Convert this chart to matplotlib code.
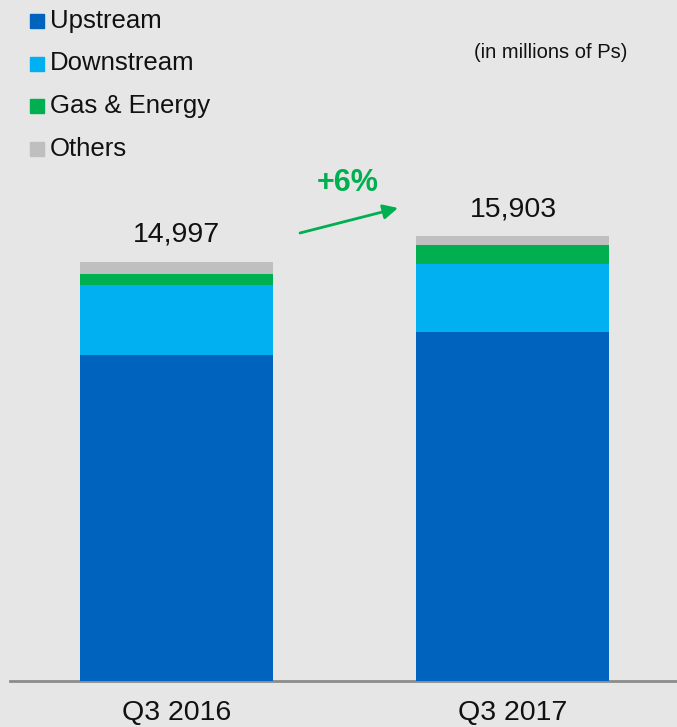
import matplotlib
matplotlib.use("Agg")
import matplotlib.pyplot as plt
from matplotlib.patches import Rectangle

plt.rcParams['font.family'] = ['Liberation Sans', 'DejaVu Sans']

periods = ["Q3 2016", "Q3 2017"]
segments = ["Upstream", "Downstream", "Gas & Energy", "Others"]
upstream = [11660, 12470]
downstream = [2500, 2430]
gas_energy = [400, 680]
others = [437, 323]
totals = [14997, 15903]
totals_labels = ["14,997", "15,903"]
growth_label = "+6%"
unit_note = "(in millions of Ps)"

colors = ["#0063BE", "#00B0F0", "#00B050", "#BFBFBF"]
bg = "#E6E6E6"

W, H = 677, 727
fig = plt.figure(figsize=(W / 100, H / 100), dpi=100, facecolor=bg)

px_per_unit = 0.02796
base_y = 681
ax = fig.add_axes([10 / W, (H - base_y) / H, (W - 10) / W, base_y / H])
ax.set_facecolor(bg)
ax.set_ylim(0, base_y / px_per_unit)
span = 336.5
ax.set_xlim((10 - 176.5) / span, (677 - 176.5) / span)
bar_w = 193 / span

x = list(range(len(periods)))
bottom = [0, 0]
for vals, c in zip([upstream, downstream, gas_energy, others], colors):
    ax.bar(x, vals, width=bar_w, bottom=bottom, color=c, linewidth=0, zorder=3)
    bottom = [b + v for b, v in zip(bottom, vals)]

for xi, t, lab in zip(x, totals, totals_labels):
    ax.text(xi, t + 14 / px_per_unit, lab, ha="center", va="bottom",
            fontsize=20.5, color="#111111")

for s in ["top", "right", "left"]:
    ax.spines[s].set_visible(False)
ax.spines["bottom"].set_color("#8C8C8C")
ax.spines["bottom"].set_linewidth(2)
ax.set_yticks([])
ax.set_xticks(x)
ax.set_xticklabels(periods, fontsize=20.5, color="#111111")
ax.tick_params(axis="x", length=0, pad=14)

# growth arrow
ax.annotate("", xy=((398 - 176.5) / span, (base_y - 208) / px_per_unit),
            xytext=((300 - 176.5) / span, (base_y - 233) / px_per_unit),
            arrowprops=dict(arrowstyle="-|>", color="#00B050", lw=2,
                            mutation_scale=22, shrinkA=0, shrinkB=0))
ax.text((348 - 176.5) / span, (base_y - 183) / px_per_unit, growth_label,
        ha="center", va="center", fontsize=22, fontweight="bold", color="#00B050")

# unit note
fig.text(551 / W, 1 - 52 / H, unit_note, ha="center", va="center",
         fontsize=14.5, color="#111111")

# legend
for i, (name, c) in enumerate(zip(segments, colors)):
    yc = 21 + i * 42.5
    fig.patches.append(Rectangle((30 / W, 1 - (yc + 7) / H), 14 / W, 14 / H,
                                 transform=fig.transFigure, color=c, figure=fig))
    fig.text(50 / W, 1 - yc / H, name, ha="left", va="center",
             fontsize=18.5, color="#111111")

fig.savefig("out.png", dpi=100, facecolor=bg)
